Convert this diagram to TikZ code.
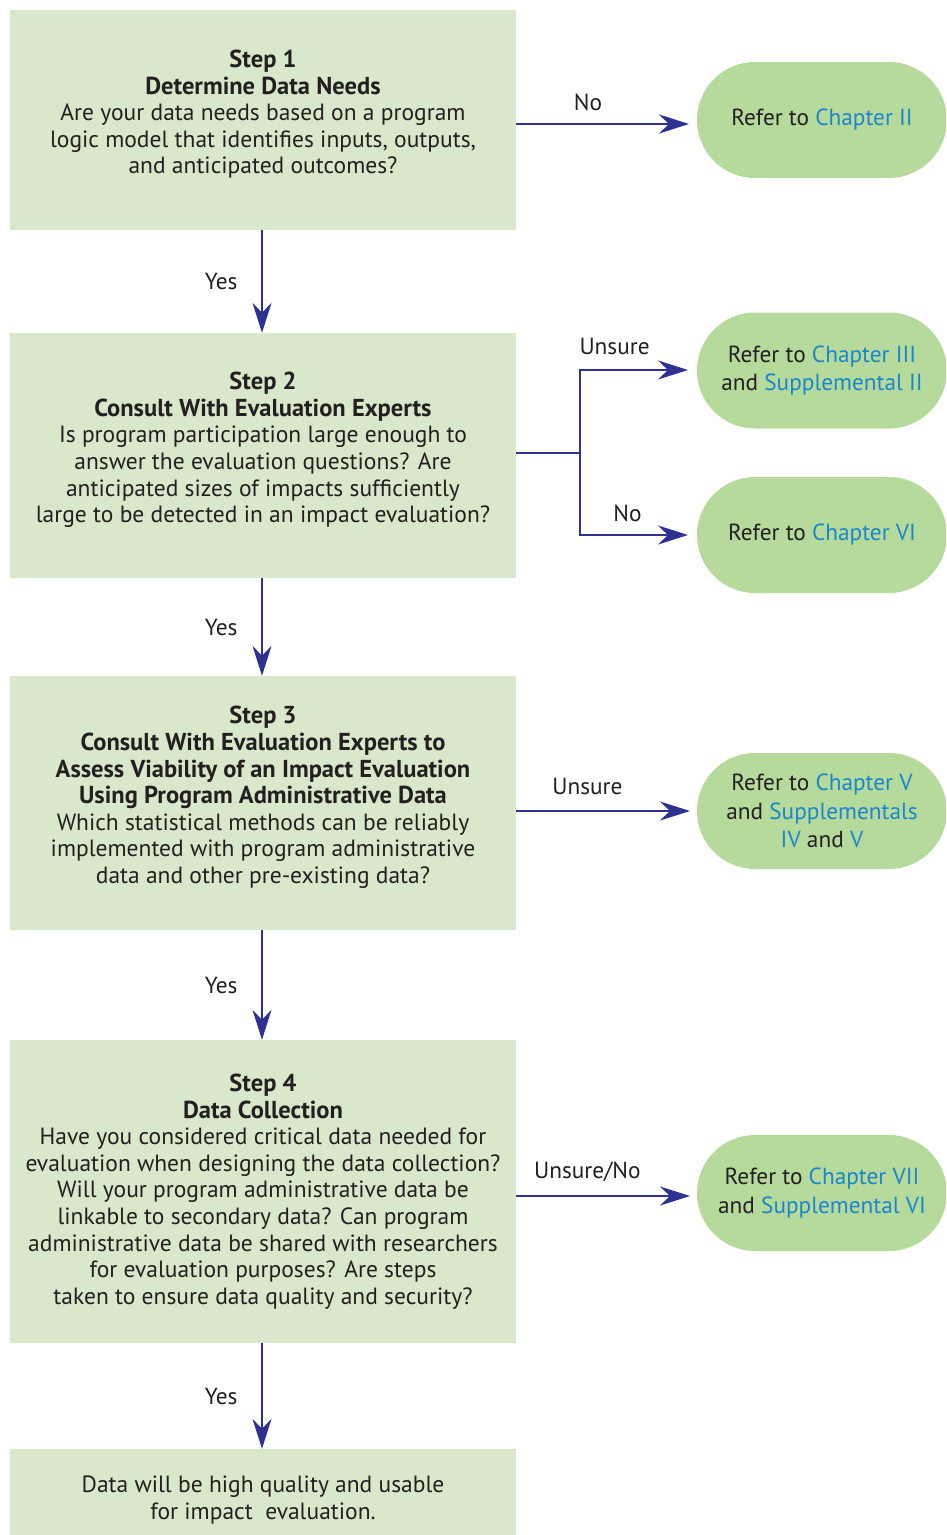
\documentclass[tikz,border=0pt]{standalone}
\usepackage{fontspec}
\setmainfont{PT Sans}
\usetikzlibrary{arrows.meta}
\definecolor{boxfill}{RGB}{217,232,203}
\definecolor{pillfill}{RGB}{182,218,156}
\definecolor{arrowc}{RGB}{46,49,146}
\definecolor{linkc}{RGB}{28,134,204}
\definecolor{txt}{RGB}{35,31,32}
\newcommand{\lk}[1]{\textcolor{linkc}{#1}}
\newcommand{\hd}[1]{{\fontsize{24.5}{26.6}\selectfont\textbf{#1}}}
\newcommand{\upshift}{\rule[-16pt]{0pt}{1pt}}
\tikzset{
  every node/.style={text=txt},
  stepbox/.style={fill=boxfill, draw=none, minimum width=506pt, align=center,
    font=\fontsize{23.5}{26.6}\selectfont, inner sep=0pt},
  pill/.style={fill=pillfill, draw=none, minimum width=250pt, minimum height=116pt,
    rounded corners=58pt, align=center, font=\fontsize{23.3}{28.5}\selectfont, inner sep=0pt},
  conn/.style={draw=arrowc, line width=2.3pt, -{Stealth[length=30pt,width=19pt,inset=10pt]}},
  lbl/.style={font=\fontsize{23.3}{25}\selectfont},
}
\begin{document}
\begin{tikzpicture}[x=1pt,y=-1pt]
\useasboundingbox (0,0) rectangle (946,1535);
\begin{scope}
\clip (0,0) rectangle (946,1535);
% step boxes
\node[stepbox, minimum height=220pt] (s1) at (263,120)
  {\hd{Step 1}\\ \hd{Determine Data Needs}\\ Are your data needs based on a program\\ logic model that identifies inputs, outputs,\\ and anticipated outcomes?\upshift};
\node[stepbox, minimum height=245pt] (s2) at (263,455.5)
  {\hd{Step 2}\\ \hd{Consult With Evaluation Experts}\\ Is program participation large enough to\\ answer the evaluation questions? Are\\ anticipated sizes of impacts sufficiently\\ large to be detected in an impact evaluation?\upshift};
\node[stepbox, minimum height=254pt] (s3) at (263,803)
  {\hd{Step 3}\\ \hd{Consult With Evaluation Experts to}\\ \hd{Assess Viability of an Impact Evaluation}\\ \hd{Using Program Administrative Data}\\ Which statistical methods can be reliably\\ implemented with program administrative\\ data and other pre-existing data?\upshift};
\node[stepbox, minimum height=303pt] (s4) at (263,1191.5)
  {\hd{Step 4}\\ \hd{Data Collection}\\ Have you considered critical data needed for\\ evaluation when designing the data collection?\\ Will your program administrative data be\\ linkable to secondary data? Can program\\ administrative data be shared with researchers\\ for evaluation purposes? Are steps\\ taken to ensure data quality and security?};
\node[stepbox, minimum height=91pt] (s5) at (263,1494.5)
  {\rule{0pt}{28pt}Data will be high quality and usable\\ for impact\ \ evaluation.};
% pills
\node[pill] (p1) at (822,120) {Refer to \lk{Chapter II}};
\node[pill] (p2) at (822,370.5) {Refer to \lk{Chapter III}\\ and \lk{Supplemental II}};
\node[pill] (p3) at (822,535) {Refer to \lk{Chapter VI}};
\node[pill] (p4) at (822,811) {Refer to \lk{Chapter V}\\ and \lk{Supplementals}\\ \lk{IV} and \lk{V}};
\node[pill] (p5) at (822,1193) {Refer to \lk{Chapter VII}\\ and \lk{Supplemental VI}};
\end{scope}
% vertical connectors
\draw[conn] (s1.south -| 262,0) -- (s2.north -| 262,0) node[lbl, midway, left=20pt] {Yes};
\draw[conn] (s2.south -| 262,0) -- (s3.north -| 262,0) node[lbl, midway, left=20pt] {Yes};
\draw[conn] (s3.south -| 262,0) -- (s4.north -| 262,0) node[lbl, midway, left=20pt] {Yes};
\draw[conn] (s4.south -| 262,0) -- (s5.north -| 262,0) node[lbl, midway, left=20pt] {Yes};
% horizontal connectors
\coordinate (c1) at (516,124);
\coordinate (e1) at (689,124);
\draw[conn] (c1) -- (e1) node[lbl, pos=0.416, above=9pt] {No};
\coordinate (c2) at (516,453);
\coordinate (j2) at (580,453);
\coordinate (e2a) at (688,370);
\coordinate (e2b) at (688,535);
\draw[draw=arrowc, line width=2.3pt] (c2) -- (j2);
\draw[conn] (j2) |- (e2a) node[lbl, pos=0.66, above=11pt] {Unsure};
\draw[conn] (j2) |- (e2b) node[lbl, pos=0.72, above=9pt] {No};
\coordinate (c3) at (516,811);
\coordinate (e3) at (690,811);
\draw[conn] (c3) -- (e3) node[lbl, pos=0.41, above=12pt] {Unsure};
\coordinate (c4) at (516,1196);
\coordinate (e4) at (690,1196);
\draw[conn] (c4) -- (e4) node[lbl, pos=0.41, above=10pt] {Unsure/No};
\end{tikzpicture}
\end{document}
